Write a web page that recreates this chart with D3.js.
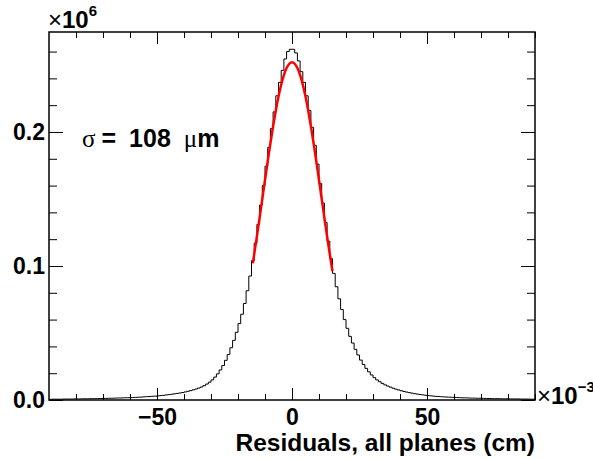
<!DOCTYPE html>
<html>
<head>
<meta charset="utf-8">
<script src="https://cdn.jsdelivr.net/npm/d3@7"></script>
<style>
  body { margin: 0; background: #fff; }
  text { font-family: "Liberation Sans", Arial, sans-serif; font-weight: bold; }
</style>
</head>
<body>
<svg id="chart" width="593" height="459"></svg>
<script>
// histogram: 180 bins of width 1 (x10^-3 cm) from -90 to 90, counts in units of 10^6
var binLow = -90;
var binWidth = 1;
var countsLeft = [ // bins -90 .. -1
  0.0005, 0.0006, 0.0006, 0.0006, 0.0006, 0.0007, 0.0007, 0.0007, 0.0007, 0.0008,
  0.0008, 0.0008, 0.0009, 0.0009, 0.0009, 0.0010, 0.0010, 0.0010, 0.0011, 0.0011,
  0.0012, 0.0012, 0.0013, 0.0013, 0.0014, 0.0015, 0.0015, 0.0016, 0.0017, 0.0017,
  0.0018, 0.0019, 0.0020, 0.0021, 0.0022, 0.0024, 0.0025, 0.0026, 0.0028, 0.0029,
  0.0031, 0.0033, 0.0035, 0.0038, 0.0040, 0.0043, 0.0046, 0.0049, 0.0052, 0.0056,
  0.0060, 0.0065, 0.0070, 0.0076, 0.0082, 0.0089, 0.0097, 0.0107, 0.0119, 0.0133,
  0.0150, 0.0171, 0.0195, 0.0224, 0.0257, 0.0296, 0.0340, 0.0390, 0.0445, 0.0505,
  0.0570, 0.0640, 0.0720, 0.0815, 0.0925, 0.1040, 0.1170, 0.1310, 0.1455, 0.1600,
  0.1745, 0.1885, 0.2025, 0.2150, 0.2270, 0.2370, 0.2460, 0.2545, 0.2600, 0.2617
];
var countsRight = [ // bins 0 .. 89
  0.2617, 0.2590, 0.2530, 0.2450, 0.2370, 0.2270, 0.2160, 0.2035, 0.1900, 0.1760,
  0.1615, 0.1470, 0.1325, 0.1185, 0.1055, 0.0945, 0.0845, 0.0755, 0.0675, 0.0600,
  0.0535, 0.0475, 0.0425, 0.0378, 0.0336, 0.0298, 0.0265, 0.0236, 0.0210, 0.0187,
  0.0167, 0.0150, 0.0136, 0.0124, 0.0113, 0.0104, 0.0096, 0.0088, 0.0081, 0.0075,
  0.0069, 0.0064, 0.0059, 0.0055, 0.0051, 0.0047, 0.0044, 0.0041, 0.0038, 0.0035,
  0.0033, 0.0031, 0.0029, 0.0027, 0.0026, 0.0024, 0.0023, 0.0022, 0.0021, 0.0020,
  0.0019, 0.0018, 0.0017, 0.0016, 0.0016, 0.0015, 0.0014, 0.0014, 0.0013, 0.0013,
  0.0012, 0.0012, 0.0011, 0.0011, 0.0010, 0.0010, 0.0010, 0.0009, 0.0009, 0.0009,
  0.0008, 0.0008, 0.0008, 0.0008, 0.0007, 0.0007, 0.0007, 0.0007, 0.0006, 0.0006
];
var counts = countsLeft.concat(countsRight);

// gaussian fit curve
var fitX = [-14.5, -14, -13, -12, -11, -10, -9, -8, -7, -6, -5, -4, -3, -2, -1, 0,
            1, 2, 3, 4, 5, 6, 7, 8, 9, 10, 11, 12, 13, 14, 15];
var fitY = [0.1019, 0.1088, 0.1221, 0.1359, 0.1500, 0.1642, 0.1781, 0.1915, 0.2043, 0.2160,
            0.2264, 0.2353, 0.2425, 0.2477, 0.2509, 0.2520, 0.2509, 0.2477, 0.2425, 0.2353,
            0.2264, 0.2160, 0.2043, 0.1915, 0.1781, 0.1642, 0.1500, 0.1359, 0.1221, 0.1088, 0.0961];

var xMajor = [-50, 0, 50];
var xMinor = [-80, -70, -60, -40, -30, -20, -10, 10, 20, 30, 40, 60, 70, 80, 90];
var yMajor = [0, 0.1, 0.2];
var yMinor = [0.02, 0.04, 0.06, 0.08, 0.12, 0.14, 0.16, 0.18, 0.22, 0.24, 0.26];

var frameLeft = 49, frameRight = 535, frameTop = 32, frameBottom = 400;

var svg = d3.select("#chart");

var x = d3.scaleLinear().domain([-90, 90]).range([frameLeft, frameRight]);
var y = d3.scaleLinear().domain([0, 0.2746]).range([frameBottom, frameTop]);

// histogram as steps
var pts = counts.map(function(c, i) { return [binLow + i * binWidth, c]; });
pts.push([binLow + counts.length * binWidth, counts[counts.length - 1]]);
var stepLine = d3.line()
    .x(function(d) { return x(d[0]); })
    .y(function(d) { return y(d[1]); })
    .curve(d3.curveStepAfter);
svg.append("path")
    .attr("d", stepLine(pts))
    .attr("fill", "none")
    .attr("stroke", "#000")
    .attr("stroke-width", 1);

// fit
var fitLine = d3.line()
    .x(function(d) { return x(d[0]); })
    .y(function(d) { return y(d[1]); })
    .curve(d3.curveMonotoneX);
svg.append("path")
    .attr("d", fitLine(fitX.map(function(v, i) { return [v, fitY[i]]; })))
    .attr("fill", "none")
    .attr("stroke", "#ff0000")
    .attr("stroke-width", 2.5);

// axes, ticks pointing inward
function noLabels(a) { return a.tickFormat(""); }
function dropDomain(g) { g.select(".domain").remove(); }

svg.append("g").attr("transform", "translate(0," + frameBottom + ")")
    .call(d3.axisBottom(x).tickValues(xMajor).tickSize(-12).tickPadding(9).tickFormat(d3.format("d")))
    .call(dropDomain);
svg.append("g").attr("transform", "translate(0," + frameBottom + ")")
    .call(noLabels(d3.axisBottom(x).tickValues(xMinor).tickSize(-6)))
    .call(dropDomain);
svg.append("g").attr("transform", "translate(0," + frameTop + ")")
    .call(noLabels(d3.axisTop(x).tickValues(xMajor).tickSize(-12)))
    .call(dropDomain);
svg.append("g").attr("transform", "translate(0," + frameTop + ")")
    .call(noLabels(d3.axisTop(x).tickValues(xMinor).tickSize(-6)))
    .call(dropDomain);

svg.append("g").attr("transform", "translate(" + frameLeft + ",0)")
    .call(d3.axisLeft(y).tickValues(yMajor).tickSize(-14).tickPadding(4).tickFormat(d3.format(".1f")))
    .call(dropDomain);
svg.append("g").attr("transform", "translate(" + frameLeft + ",0)")
    .call(noLabels(d3.axisLeft(y).tickValues(yMinor).tickSize(-8)))
    .call(dropDomain);
svg.append("g").attr("transform", "translate(" + frameRight + ",0)")
    .call(noLabels(d3.axisRight(y).tickValues(yMajor).tickSize(-14)))
    .call(dropDomain);
svg.append("g").attr("transform", "translate(" + frameRight + ",0)")
    .call(noLabels(d3.axisRight(y).tickValues(yMinor).tickSize(-8)))
    .call(dropDomain);

svg.selectAll(".tick line").attr("stroke", "#000").attr("stroke-width", 1);
svg.selectAll(".tick text")
    .attr("font-family", "Liberation Sans, Arial, sans-serif")
    .attr("font-weight", "bold")
    .attr("font-size", 23)
    .attr("fill", "#000");

// frame
svg.append("rect")
    .attr("x", frameLeft).attr("y", frameTop)
    .attr("width", frameRight - frameLeft).attr("height", frameBottom - frameTop)
    .attr("fill", "none")
    .attr("stroke", "#000")
    .attr("stroke-width", 1.5);

// exponent labels
var ex = svg.append("text").attr("x", 48).attr("y", 28).attr("font-size", 24);
ex.append("tspan").attr("font-weight", "normal").text("×");
ex.append("tspan").text("10");
ex.append("tspan").attr("dy", -12).attr("font-size", 15).text("6");

var ex2 = svg.append("text").attr("x", 537).attr("y", 404).attr("font-size", 24);
ex2.append("tspan").attr("font-weight", "normal").text("×");
ex2.append("tspan").text("10");
ex2.append("tspan").attr("dy", -12).attr("font-size", 15).text("−3");

// axis title
svg.append("text")
    .attr("x", frameRight).attr("y", 451)
    .attr("text-anchor", "end")
    .attr("font-size", 24.5)
    .text("Residuals, all planes (cm)");

// sigma label
var sg = svg.append("text").attr("x", 82).attr("y", 147).attr("font-size", 25);
sg.append("tspan").attr("font-family", "Liberation Serif, serif").attr("font-weight", "normal").text("σ");
sg.append("tspan").attr("dx", 6).text("=");
sg.append("tspan").attr("dx", 13).text("108");
sg.append("tspan").attr("dx", 13).attr("font-family", "Liberation Serif, serif").attr("font-weight", "normal").text("μ");
sg.append("tspan").text("m");
</script>
</body>
</html>
